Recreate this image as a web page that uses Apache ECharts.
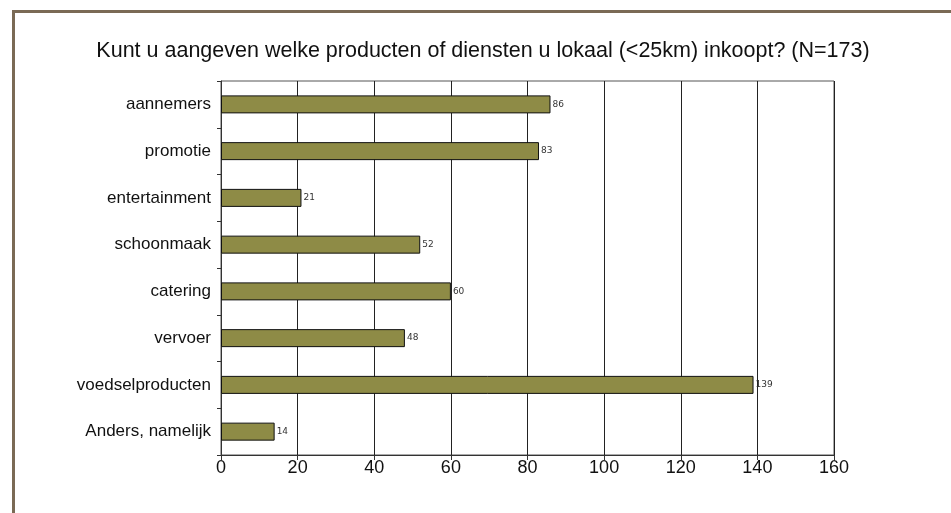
<!DOCTYPE html>
<html>
<head>
<meta charset="utf-8">
<script src="https://cdn.jsdelivr.net/npm/echarts@6/dist/echarts.min.js"></script>
<style>
  html, body { margin: 0; padding: 0; background: #fff; }
  #main { width: 951px; height: 513px; }
</style>
</head>
<body>
<div id="main"></div>
<script>
// categorieen en aantallen
var categories = ['aannemers', 'promotie', 'entertainment', 'schoonmaak', 'catering', 'vervoer', 'voedselproducten', 'Anders, namelijk'];
var counts = [86, 83, 21, 52, 60, 48, 139, 14];
var titleText = 'Kunt u aangeven welke producten of diensten u lokaal (<25km) inkoopt? (N=173)';

var FONT = '"Liberation Sans", sans-serif';

var myChart = echarts.init(document.getElementById('main'));
myChart.setOption({
    animation: false,
    title: {
        text: titleText,
        left: 478,
        textAlign: 'center',
        top: 35,
        textStyle: { fontFamily: FONT, fontSize: 21.5, fontWeight: 'normal', color: '#111' }
    },
    graphic: [{
        type: 'rect',
        shape: { x: 13.5, y: 11.5, width: 1200, height: 800 },
        style: { fill: 'none', stroke: '#7a6a55', lineWidth: 3 },
        silent: true
    }],
    grid: {
        left: 221, right: 117, top: 81, bottom: 58,
        show: true, borderColor: '#555', borderWidth: 1
    },
    xAxis: {
        type: 'value',
        min: 0, max: 160, interval: 20,
        axisLine: { show: true, lineStyle: { color: '#333' } },
        axisTick: { show: true, length: 5, lineStyle: { color: '#333' } },
        splitLine: { show: true, lineStyle: { color: '#222', width: 1 } },
        axisLabel: { fontFamily: FONT, fontSize: 18, color: '#111', margin: 4 }
    },
    yAxis: {
        type: 'category',
        inverse: true,
        data: categories,
        axisLine: { show: true, lineStyle: { color: '#333' } },
        axisTick: { show: true, length: 4, lineStyle: { color: '#333' } },
        axisLabel: { fontFamily: FONT, fontSize: 17, color: '#111', margin: 10 }
    },
    series: [{
        type: 'bar',
        data: counts,
        barWidth: 18,
        itemStyle: { color: '#8e8b46', borderColor: '#111', borderWidth: 1 },
        label: {
            show: true, position: 'right', distance: 2,
            fontFamily: 'DejaVu Sans', fontSize: 9, color: '#333'
        }
    }]
});
</script>
</body>
</html>
